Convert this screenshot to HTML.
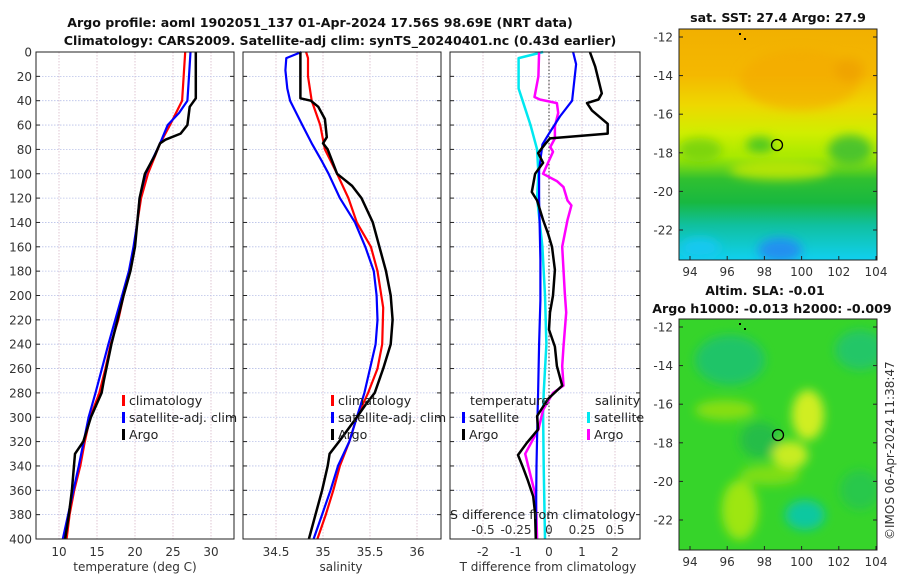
<!DOCTYPE html>
<html><head><meta charset="utf-8">
<style>
html,body{margin:0;padding:0;background:#fff;}
svg{display:block;font-family:"DejaVu Sans","Liberation Sans",sans-serif;}
.tk{font-size:12px;fill:#333;}
.ttl{font-size:12.6px;font-weight:bold;fill:#111;}
.lg{font-size:12.6px;fill:#222;}
</style></head>
<body>
<svg id="fig" width="900" height="580" viewBox="0 0 900 580" xmlns="http://www.w3.org/2000/svg">
<defs>
<linearGradient id="sstGrad" x1="0" y1="0" x2="0" y2="1">
<stop offset="0" stop-color="#f2b000"/>
<stop offset="0.2" stop-color="#f4b800"/>
<stop offset="0.33" stop-color="#eed800"/>
<stop offset="0.45" stop-color="#d0ee00"/>
<stop offset="0.55" stop-color="#a8ea00"/>
<stop offset="0.65" stop-color="#30c030"/>
<stop offset="0.75" stop-color="#18b840"/>
<stop offset="0.85" stop-color="#10c0a0"/>
<stop offset="1" stop-color="#10d0f0"/>
</linearGradient>
<filter id="blur4"><feGaussianBlur stdDeviation="5"/></filter>
<clipPath id="m1clip"><rect x="679" y="29" width="198" height="231"/></clipPath>
<clipPath id="m2clip"><rect x="679" y="319" width="198" height="231"/></clipPath>
</defs>
<text class="ttl" x="320" y="27" text-anchor="middle">Argo profile: aoml 1902051_137 01-Apr-2024 17.56S 98.69E (NRT data)</text>
<text class="ttl" x="340" y="45" text-anchor="middle">Climatology: CARS2009. Satellite-adj clim: synTS_20240401.nc (0.43d earlier)</text>
<g id="p1"></g>
<g id="p2"></g>
<g id="p3"></g>
<g id="m1">
  <g clip-path="url(#m1clip)">
    <rect x="679" y="29" width="198" height="231" fill="url(#sstGrad)"/>
    <g filter="url(#blur4)">
      <ellipse cx="800" cy="80" rx="60" ry="30" fill="#f4a800" opacity="0.6"/>
      <ellipse cx="850" cy="70" rx="15" ry="12" fill="#f0a000" opacity="0.7"/>
      <ellipse cx="760" cy="145" rx="14" ry="8" fill="#50c820"/>
      <ellipse cx="850" cy="150" rx="22" ry="15" fill="#40c030" opacity="0.9"/>
      <ellipse cx="700" cy="150" rx="22" ry="12" fill="#70d010" opacity="0.8"/>
      <ellipse cx="780" cy="170" rx="50" ry="10" fill="#c8ea00" opacity="0.8"/>
      <ellipse cx="780" cy="250" rx="22" ry="12" fill="#2090f0"/>
      <ellipse cx="700" cy="248" rx="20" ry="10" fill="#18c8f0"/>
    </g>
  </g>
  <rect x="679" y="29" width="198" height="231" fill="none" stroke="#222" stroke-width="1"/>
  <circle cx="777" cy="145" r="5.5" fill="none" stroke="#000" stroke-width="1.3"/>
  <text class="ttl" x="778" y="22" text-anchor="middle">sat. SST: 27.4 Argo: 27.9</text>
</g>
<g id="m2">
  <g clip-path="url(#m2clip)">
    <rect x="679" y="319" width="198" height="231" fill="#36d42a"/>
    <g filter="url(#blur4)">
      <ellipse cx="730" cy="360" rx="35" ry="25" fill="#18c078" opacity="0.8"/>
      <ellipse cx="860" cy="350" rx="25" ry="20" fill="#18c080" opacity="0.7"/>
      <ellipse cx="760" cy="440" rx="20" ry="18" fill="#20b850" opacity="0.8"/>
      <ellipse cx="808" cy="415" rx="16" ry="25" fill="#d0ee20"/>
      <ellipse cx="790" cy="455" rx="18" ry="14" fill="#c8ec20"/>
      <ellipse cx="725" cy="410" rx="30" ry="10" fill="#90e010" opacity="0.9"/>
      <ellipse cx="770" cy="475" rx="30" ry="10" fill="#90e010" opacity="0.8"/>
      <ellipse cx="740" cy="510" rx="18" ry="30" fill="#a8e810" opacity="0.9"/>
      <ellipse cx="805" cy="515" rx="20" ry="15" fill="#10c8a0"/>
      <ellipse cx="860" cy="490" rx="20" ry="20" fill="#20c060" opacity="0.6"/>
    </g>
  </g>
  <rect x="679" y="319" width="198" height="231" fill="none" stroke="#222" stroke-width="1"/>
  <circle cx="778" cy="435" r="5.5" fill="none" stroke="#000" stroke-width="1.3"/>
  <text class="ttl" x="765" y="295" text-anchor="middle">Altim. SLA: -0.01</text>
  <text class="ttl" x="772" y="313" text-anchor="middle">Argo h1000: -0.013 h2000: -0.009</text>
</g>
<text class="tk" transform="translate(894,540) rotate(-90)">©IMOS 06-Apr-2024 11:38:47</text>
</svg>
<script>
// ---- data ----
const depthTicks = [0,20,40,60,80,100,120,140,160,180,200,220,240,260,280,300,320,340,360,380,400];
const tempTicks = [10,15,20,25,30];
const salTicks = [34.5,35,35.5,36];
const tdiffTicks = [-2,-1,0,1,2];
const sdiffTicks = [-0.5,-0.25,0,0.25,0.5];
const latTicks = [-12,-14,-16,-18,-20,-22];
const lonTicks = [94,96,98,100,102,104];

const tClimDepth = [0,40,60,75,100,120,140,160,180,200,220,240,260,280,300,320,340,360,380,400];
const tClimVal   = [26.6,26.2,24.6,23.3,21.7,20.8,20.3,19.9,19.3,18.5,17.8,16.8,16.1,15.3,14.1,13.4,12.8,12.0,11.4,11.0];
const tSatDepth = [0,20,40,50,60,75,100,120,140,160,180,200,240,280,300,340,400];
const tSatVal   = [27.3,27.1,26.9,25.8,24.3,23.3,21.4,20.6,20.3,19.8,19.2,18.3,16.5,14.8,13.9,12.6,10.5];
const tArgoDepth = [0,38,45,60,67,72,75,85,100,120,160,180,200,240,270,280,300,320,330,360,380,400];
const tArgoVal   = [28.0,28.0,27.2,26.9,26.0,24.0,23.3,22.6,21.3,20.6,20.0,19.4,18.5,16.9,15.9,15.6,14.2,13.2,12.1,11.7,11.3,10.8];

const sClimDepth = [0,5,20,40,60,80,100,120,140,160,180,210,240,260,280,300,320,340,360,380,400];
const sClimVal   = [34.82,34.84,34.84,34.88,34.97,35.02,35.15,35.27,35.36,35.51,35.58,35.64,35.63,35.58,35.48,35.36,35.28,35.18,35.11,35.03,34.94];
const sSatDepth = [0,5,15,30,40,60,75,90,100,120,140,160,180,200,220,240,260,280,300,320,340,360,380,400];
const sSatVal   = [34.77,34.61,34.60,34.62,34.65,34.78,34.88,34.99,35.06,35.18,35.34,35.45,35.54,35.57,35.58,35.56,35.50,35.44,35.36,35.28,35.16,35.08,34.99,34.90];
const sArgoDepth = [0,38,40,45,55,70,75,80,90,100,105,110,120,140,160,180,200,220,240,260,280,290,300,320,330,340,360,380,400];
const sArgoVal   = [34.76,34.76,34.87,34.95,35.02,35.04,35.00,35.05,35.10,35.15,35.23,35.31,35.41,35.53,35.60,35.67,35.72,35.74,35.72,35.64,35.55,35.45,35.36,35.17,35.07,35.05,34.99,34.92,34.85];

const dTSatDepth = [0,10,40,53,67,76,97,121,171,204,240,280,300,340,400];
const dTSatVal   = [0.73,0.82,0.70,0.33,0.0,-0.2,-0.3,-0.3,-0.26,-0.26,-0.3,-0.33,-0.35,-0.38,-0.4];
const dSSatDepth = [0,5,30,40,60,80,100,120,160,200,240,280,297,340,400];
const dSSatVal   = [-0.045,-0.23,-0.23,-0.2,-0.14,-0.09,-0.08,-0.09,-0.05,-0.03,-0.02,-0.04,-0.045,-0.04,-0.03];
const dSArgoDepth = [0,20,37,39,42,50,61,71,78,82,94,100,106,111,122,126,138,160,179,198,214,242,258,274,280,294,310,330,352,365,400];
const dSArgoVal   = [-0.075,-0.08,-0.11,-0.07,0.06,0.07,0.045,0.045,0.01,0.03,-0.02,-0.045,0.06,0.11,0.14,0.17,0.14,0.10,0.11,0.12,0.13,0.11,0.10,0.11,0.03,-0.045,-0.08,-0.18,-0.13,-0.10,-0.09];
const dTArgoDepth = [0,12,34,39,42,48,59,67,71,75,83,91,100,115,122,138,149,160,179,200,214,228,242,258,274,285,299,310,321,331,341,352,365,379,400];
const dTArgoVal   = [1.24,1.4,1.6,1.5,1.15,1.3,1.78,1.78,0.03,-0.1,-0.33,-0.18,-0.42,-0.52,-0.36,-0.18,-0.03,0.09,0.18,0.12,0.03,0.0,0.18,0.24,0.4,-0.03,-0.36,-0.33,-0.67,-0.94,-0.79,-0.64,-0.48,-0.42,-0.4];

// ---- geometry ----
const NS = "http://www.w3.org/2000/svg";
const yTop = 52, yBot = 539;
function yDepth(d){ return yTop + d * (yBot - yTop) / 400; }
function xTemp(t){ return 59 + (t - 10) * 7.6; }
function xSal(s){ return 323 + (s - 35) * 94; }
function xTD(t){ return 549 + t * 33; }
function xSD(s){ return 549 + s * 132; }
function xLon(l){ return 690 + (l - 94) * 18.6; }
function yLat1(l){ return 37 + (-12 - l) * 19.3; }
function yLat2(l){ return 327 + (-12 - l) * 19.3; }

function mk(tag, attrs, parent){
  const e = document.createElementNS(NS, tag);
  for (const k in attrs) e.setAttribute(k, attrs[k]);
  parent.appendChild(e);
  return e;
}
function txt(parent, x, y, s, cls, anchor){
  const t = mk('text', {x:x, y:y, class:cls, 'text-anchor':anchor||'start'}, parent);
  t.textContent = s;
  return t;
}

function panel(g, x0, x1, xticks, xf, xlabelFmt, showDepthLabels, name){
  mk('rect',{x:x0,y:yTop,width:x1-x0,height:yBot-yTop,fill:'#fff'},g);
  xticks.forEach(v=>{
    const gl = mk('line',{x1:xf(v),x2:xf(v),y1:yTop,y2:yBot,stroke:'#d8b8c8','stroke-width':0.8,'stroke-dasharray':'1.5,1.5'},g);
    
    
  });
  depthTicks.forEach(d=>{
    const gl = mk('line',{x1:x0,x2:x1,y1:yDepth(d),y2:yDepth(d),stroke:'#b8c0e8','stroke-width':0.8,'stroke-dasharray':'1.5,1.5'},g);
    
    
    mk('line',{x1:x0,x2:x0+4,y1:yDepth(d),y2:yDepth(d),stroke:'#222'},g);
    mk('line',{x1:x1-4,x2:x1,y1:yDepth(d),y2:yDepth(d),stroke:'#222'},g);
    if (showDepthLabels){
      const t = txt(g, x0-4, yDepth(d)+4.5, String(d), 'tk', 'end');
      
      
    }
  });
  if (xlabelFmt){
    xticks.forEach(v=>{
      const t = txt(g, xf(v), yBot+17, xlabelFmt(v), 'tk', 'middle');
      
      
    });
  }
}
function frame(g, x0, x1){
  mk('rect',{x:x0,y:yTop,width:x1-x0,height:yBot-yTop,fill:'none',stroke:'#222','stroke-width':1},g);
}
function line(g, depths, vals, xf, color, w, name){
  const pts = depths.map((d,i)=> xf(vals[i]).toFixed(1)+','+yDepth(d).toFixed(1)).join(' ');
  const p = mk('polyline',{points:pts,fill:'none',stroke:color,'stroke-width':w,'stroke-linejoin':'round'},g);
  
  
}
function legendEntry(g, x, y, color, label, name){
  mk('rect',{x:x,y:y-10,width:3,height:11,fill:color},g);
  const t = txt(g, x+7, y, label, 'lg');
  
  
}

// Panel 1 temperature
const p1 = document.getElementById('p1');
panel(p1, 36, 234, tempTicks, xTemp, v=>String(v), true, 'temperature');
line(p1, tClimDepth, tClimVal, xTemp, '#ff0000', 2.2, 'temp-climatology-line');
line(p1, tSatDepth, tSatVal, xTemp, '#0000ff', 2.2, 'temp-satellite-line');
line(p1, tArgoDepth, tArgoVal, xTemp, '#000000', 2.5, 'temp-argo-line');
frame(p1, 36, 234);
legendEntry(p1, 122, 405, '#ff0000', 'climatology', 'legend-climatology');
legendEntry(p1, 122, 422, '#0000ff', 'satellite-adj. clim', 'legend-satellite');
legendEntry(p1, 122, 439, '#000000', 'Argo', 'legend-argo');
const xl1 = txt(p1, 135, 571, 'temperature (deg C)', 'tk', 'middle');



// Panel 2 salinity
const p2 = document.getElementById('p2');
panel(p2, 243, 441, salTicks, xSal, v=>String(v), false, 'salinity');
line(p2, sClimDepth, sClimVal, xSal, '#ff0000', 2.2, 'sal-climatology-line');
line(p2, sSatDepth, sSatVal, xSal, '#0000ff', 2.2, 'sal-satellite-line');
line(p2, sArgoDepth, sArgoVal, xSal, '#000000', 2.5, 'sal-argo-line');
frame(p2, 243, 441);
legendEntry(p2, 331, 405, '#ff0000', 'climatology', 'legend-climatology-2');
legendEntry(p2, 331, 422, '#0000ff', 'satellite-adj. clim', 'legend-satellite-2');
legendEntry(p2, 331, 439, '#000000', 'Argo', 'legend-argo-2');
const xl2 = txt(p2, 341, 571, 'salinity', 'tk', 'middle');



// Panel 3 differences
const p3 = document.getElementById('p3');
panel(p3, 450, 640, tdiffTicks, xTD, v=>String(v), false, 'difference');
mk('line',{x1:549,x2:549,y1:yTop,y2:yBot,stroke:'#333','stroke-width':1,'stroke-dasharray':'1.5,2'},p3);
line(p3, dSSatDepth, dSSatVal, xSD, '#00e8f0', 2.5, 'sdiff-satellite-line');
line(p3, dSArgoDepth, dSArgoVal, xSD, '#ff00ff', 2.5, 'sdiff-argo-line');
line(p3, dTSatDepth, dTSatVal, xTD, '#0000ff', 2.2, 'tdiff-satellite-line');
line(p3, dTArgoDepth, dTArgoVal, xTD, '#000000', 2.5, 'tdiff-argo-line');
frame(p3, 450, 640);
const lt = txt(p3, 470, 405, 'temperature', 'lg');


legendEntry(p3, 462, 422, '#0000ff', 'satellite', 'legend-t-satellite');
legendEntry(p3, 462, 439, '#000000', 'Argo', 'legend-t-argo');
const ls = txt(p3, 595, 405, 'salinity', 'lg');


legendEntry(p3, 587, 422, '#00e8f0', 'satellite', 'legend-s-satellite');
legendEntry(p3, 587, 439, '#ff00ff', 'Argo', 'legend-s-argo');
const st = txt(p3, 450, 519, 'S difference from climatology', 'lg');


sdiffTicks.forEach(v=>{
  const t = txt(p3, xSD(v), 534, String(v), 'tk', 'middle');
  
  
});
const tt = txt(p3, 548, 571, 'T difference from climatology', 'tk', 'middle');



// Map axes
function mapAxes(gid, yLat, yBottom){
  const g = document.getElementById(gid);
  latTicks.forEach(l=>{
    const y = yLat(l);
    mk('line',{x1:679,x2:683,y1:y,y2:y,stroke:'#222'},g);
    mk('line',{x1:873,x2:877,y1:y,y2:y,stroke:'#222'},g);
    const t = txt(g, 673, y+4.5, String(l), 'tk', 'end');
    
    
  });
  lonTicks.forEach(l=>{
    const x = xLon(l);
    mk('line',{x1:x,x2:x,y1:yBottom-4,y2:yBottom,stroke:'#222'},g);
    const t = txt(g, x, yBottom+16, String(l), 'tk', 'middle');
    
    
  });
  mk('rect',{x:739,y:yLat(-12)-4,width:2,height:2,fill:'#000'},g);
  mk('rect',{x:744,y:yLat(-12)+1,width:2,height:2,fill:'#000'},g);
}
mapAxes('m1', yLat1, 260);
mapAxes('m2', yLat2, 550);
</script>
</body></html>
